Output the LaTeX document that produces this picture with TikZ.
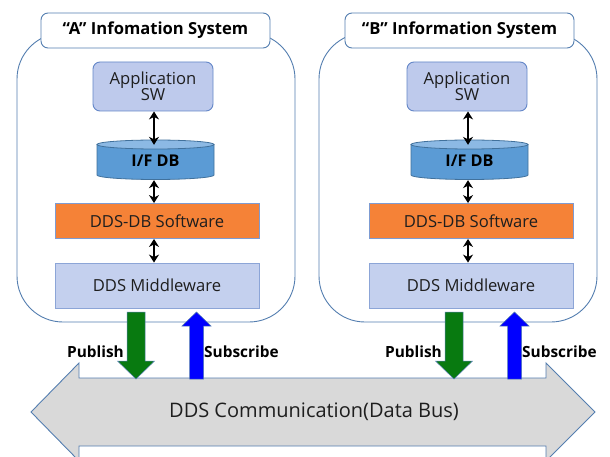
\documentclass[tikz,border=0pt]{standalone}
\usepackage{fontspec}
\setmainfont{Open Sans}
\usetikzlibrary{arrows.meta}

\definecolor{edgeblue}{RGB}{84,126,176}
\definecolor{appfill}{RGB}{190,202,236}
\definecolor{appedge}{RGB}{100,135,200}
\definecolor{mwfill}{RGB}{196,208,238}
\definecolor{mwedge}{RGB}{140,165,215}
\definecolor{swfill}{RGB}{245,130,55}
\definecolor{swedge}{RGB}{125,155,210}
\definecolor{dbbody}{RGB}{91,155,213}
\definecolor{dbtop}{RGB}{140,185,228}
\definecolor{dbedge}{RGB}{65,113,156}
\definecolor{pubgreen}{RGB}{8,122,16}
\definecolor{subblue}{RGB}{0,0,255}
\definecolor{busfill}{RGB}{217,217,217}
\definecolor{txt}{RGB}{30,30,30}

\tikzset{
  sysbox/.style={draw=edgeblue, line width=0.9pt, fill=white, rounded corners=46pt},
  titlebox/.style={draw=edgeblue, line width=0.9pt, fill=white, rounded corners=7pt,
    minimum width=229pt, minimum height=35pt, inner sep=0pt,
    font=\fontsize{16.6}{19}\selectfont\bfseries, text=black},
  appbox/.style={draw=appedge, line width=0.9pt, fill=appfill, rounded corners=7pt,
    minimum width=120pt, minimum height=49pt, inner sep=0pt, align=center,
    font=\fontsize{16.6}{18}\selectfont, text=txt},
  swbox/.style={draw=swedge, line width=0.9pt, fill=swfill,
    minimum width=204pt, minimum height=35pt, inner sep=0pt,
    font=\fontsize{16.6}{18}\selectfont, text=txt},
  mwbox/.style={draw=mwedge, line width=0.9pt, fill=mwfill,
    minimum width=204pt, minimum height=45pt, inner sep=0pt,
    font=\fontsize{16.6}{18}\selectfont, text=txt},
  dblabel/.style={minimum width=117pt, minimum height=40pt, inner sep=0pt,
    font=\fontsize{16.2}{18}\selectfont\bfseries, text=black},
  link/.style={line width=2.3pt, {Stealth[length=8pt,width=10pt]}-{Stealth[length=8pt,width=10pt]}},
  pubarrow/.style={fill=pubgreen, draw=edgeblue, line width=0.5pt},
  subarrow/.style={fill=subblue, draw=edgeblue, line width=0.5pt},
  arrowlabel/.style={font=\fontsize{15.4}{18}\selectfont\bfseries, text=black, inner sep=0pt},
}

% one information system: #1 = prefix, #2 = container left, #3 = content offset, #4 = title offset, #5 = title
\newcommand\infosystem[5]{%
  \begin{scope}
    \draw[sysbox] (#2,33) rectangle (#2+278,322);
    \node[titlebox] (#1title) at (155.5+#4,30.5) {#5};
    \node[appbox] (#1app) at (153+#3,86.5) {Application\\[-2pt]SW};
    % cylinder for the interface database
    \fill[dbbody] (97+#3,144.5) -- (97+#3,175)
      arc[start angle=180, end angle=360, x radius=58.5pt, y radius=4.5pt]
      -- (214+#3,144.5) -- cycle;
    \draw[dbedge, line width=0.8pt] (97+#3,144.5) -- (97+#3,175)
      arc[start angle=180, end angle=360, x radius=58.5pt, y radius=4.5pt]
      -- (214+#3,144.5);
    \filldraw[fill=dbtop, draw=dbedge, line width=0.8pt] (155.5+#3,144.5) ellipse[x radius=58.5pt, y radius=4.5pt];
    \node[dblabel] (#1db) at (155.5+#3,161) {I/F DB};
    \node[swbox] (#1sw) at (157+#3,221) {DDS-DB Software};
    \node[mwbox] (#1mw) at (157+#3,285.5) {DDS Middleware};
    \coordinate (#1axis) at (154+#3,0);
    \draw[link] (#1app.south -| #1axis) -- ([yshift=-4pt]#1db.north -| #1axis);
    \draw[link] ([yshift=1pt]#1db.south -| #1axis) -- (#1sw.north -| #1axis);
    \draw[link] (#1sw.south -| #1axis) -- (#1mw.north -| #1axis);
  \end{scope}}

% publish / subscribe block arrows (canvas y runs upwards in the shifts)
\newcommand\pubsub[2]{%
  \coordinate (#1p) at (136+#2,312);
  \coordinate (#1s) at (196.5+#2,312);
  \filldraw[pubarrow] ([xshift=-9pt]#1p) -- ([xshift=9pt]#1p) -- ([xshift=9pt,yshift=-49pt]#1p)
    -- ([xshift=18.5pt,yshift=-49pt]#1p) -- ([yshift=-67pt]#1p) -- ([xshift=-18.5pt,yshift=-49pt]#1p)
    -- ([xshift=-9pt,yshift=-49pt]#1p) -- cycle;
  \filldraw[subarrow] (#1s) -- ([xshift=14.5pt,yshift=-14pt]#1s) -- ([xshift=7pt,yshift=-14pt]#1s)
    -- ([xshift=7pt,yshift=-67pt]#1s) -- ([xshift=-7pt,yshift=-67pt]#1s) -- ([xshift=-7pt,yshift=-14pt]#1s)
    -- ([xshift=-14.5pt,yshift=-14pt]#1s) -- cycle;
  \node[arrowlabel, anchor=east] (#1pl) at (124+#2,352) {Publish};
  \node[arrowlabel, anchor=west] (#1sl) at (204+#2,352) {Subscribe};}

\begin{document}
\begin{tikzpicture}[x=1pt, y=-1pt]
\useasboundingbox (0,0) rectangle (610,457);

% data bus
\filldraw[fill=busfill, draw=edgeblue, line width=0.9pt]
  (31,412) -- (79,363) -- (79,378) -- (546,378) -- (546,363) -- (595,412)
  -- (546,461) -- (546,446) -- (79,446) -- (79,461) -- cycle;
\node[font=\fontsize{20}{24}\selectfont, text=txt] (bus) at (314,412) {DDS Communication(Data Bus)};

\infosystem{a}{17}{0}{0}{“A” Infomation System}
\infosystem{b}{319}{314}{304}{“B” Information System}

\pubsub{a}{0}
\pubsub{b}{318}
\end{tikzpicture}
\end{document}
